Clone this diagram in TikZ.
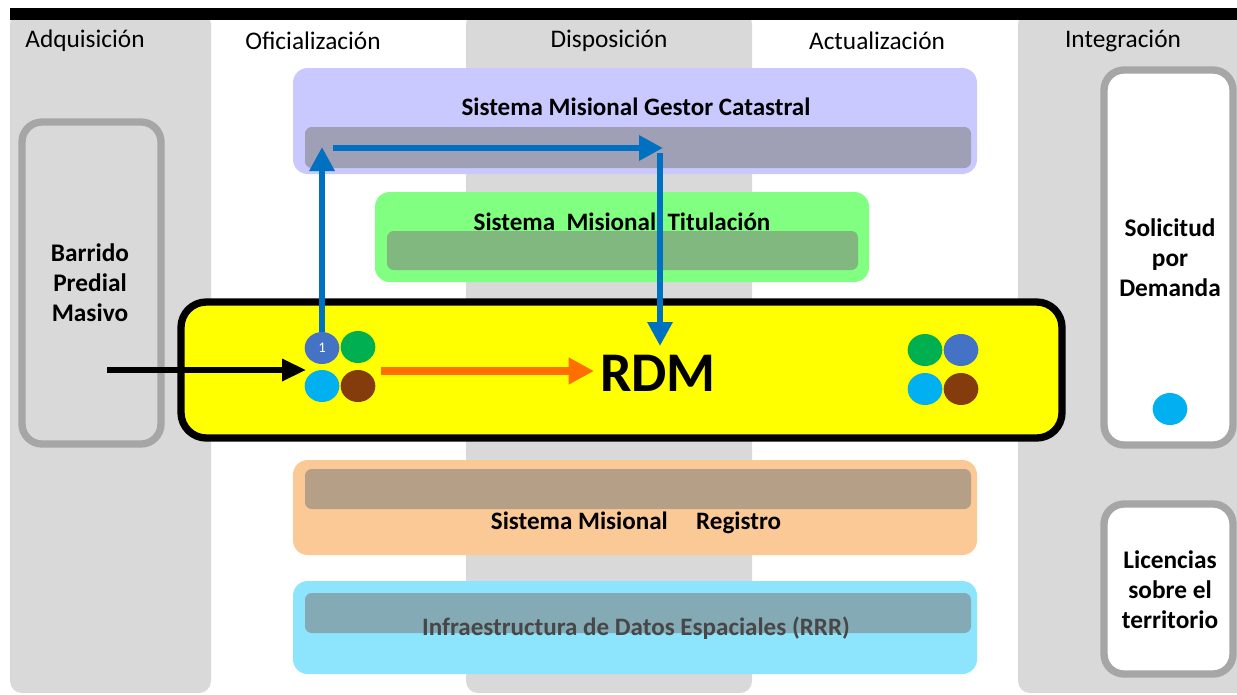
\documentclass[tikz,border=0pt]{standalone}
\usepackage{fontspec}
\setmainfont{Carlito}
\usetikzlibrary{arrows.meta,shapes.geometric}
\definecolor{colgray}{HTML}{D9D9D9}
\definecolor{boxgray}{HTML}{A6A6A6}
\definecolor{lav}{HTML}{C9C9FF}
\definecolor{lavbar}{HTML}{9F9FB6}
\definecolor{grn}{HTML}{80FF80}
\definecolor{grnbar}{HTML}{80B880}
\definecolor{peach}{HTML}{FBC996}
\definecolor{peachbar}{HTML}{B69F87}
\definecolor{sky}{HTML}{8DE5FD}
\definecolor{skybar}{HTML}{84AAB6}
\definecolor{yel}{RGB}{255,255,0}
\definecolor{arrblue}{HTML}{0070C0}
\definecolor{arrorange}{HTML}{FF6F00}
\definecolor{cblue}{HTML}{4472C4}
\definecolor{cgreen}{HTML}{00B050}
\definecolor{ccyan}{HTML}{00B0F0}
\definecolor{cbrown}{HTML}{843C0C}
\tikzset{
  collabel/.style={font=\fontsize{19}{22}\selectfont, inner sep=0pt},
  systitle/.style={font=\bfseries\fontsize{18.8}{22}\selectfont, inner sep=0pt},
  sidetext/.style={font=\bfseries\fontsize{19}{22.5}\selectfont, align=center, inner sep=0pt},
  sidebox/.style={draw=boxgray, line width=5.5pt, rounded corners=15pt},
  dot/.style={ellipse, minimum width=26pt, minimum height=24pt, inner sep=0pt},
  bluearrow/.style={draw=arrblue, line width=5pt, -{Triangle[length=18pt,width=18pt]}},
}
\begin{document}
\begin{tikzpicture}[x=0.75pt,y=-0.75pt]
\useasboundingbox (0,0) rectangle (1237,694);
% columns
\fill[colgray, rounded corners=9pt] (10,12) rectangle (211,693);
\fill[colgray, rounded corners=9pt] (466,12) rectangle (752,693);
\fill[colgray, rounded corners=9pt] (1018,12) rectangle (1260,693);
\fill[black] (10,8) rectangle (1237,20);
\node[collabel] (cAdq) at (85,41) {Adquisición};
\node[collabel] (cOfi) at (313,41) {Oficialización};
\node[collabel] (cDis) at (609,41) {Disposición};
\node[collabel] (cAct) at (877,41) {Actualización};
\node[collabel] (cInt) at (1123,41) {Integración};
% Gestor Catastral
\fill[lav, rounded corners=11pt] (293,68) rectangle (977,174);
\fill[lavbar, rounded corners=5pt] (305,127) rectangle (971,168);
\node[systitle] (gestor) at (636,107) {Sistema Misional Gestor Catastral};
% Titulacion
\fill[grn, rounded corners=11pt] (375,192) rectangle (869,282);
\fill[grnbar, rounded corners=5pt] (387,231) rectangle (858,270);
\node[systitle] (titul) at (622,222) {Sistema\ \ Misional\ \ Titulación};
% Registro
\fill[peach, rounded corners=11pt] (293,460) rectangle (977,555);
\fill[peachbar, rounded corners=5pt] (305,469) rectangle (971,509);
\node[systitle] (regis) at (636,523) {Sistema Misional\ \ \ \ \ Registro};
% Infraestructura
\fill[sky, rounded corners=11pt] (293,581) rectangle (977,674);
\fill[skybar, rounded corners=5pt] (305,593) rectangle (971,633);
\node[systitle, text=black!72] (ide) at (636,628) {Infraestructura de Datos Espaciales (RRR)};
% side boxes
\draw[sidebox, fill=colgray] (22,122) rectangle (161,444);
\node[sidetext] (barrido) at (90,283) {Barrido\\Predial\\Masivo};
\draw[sidebox, fill=white] (1104,70) rectangle (1233,445);
\node[sidetext] (solic) at (1170,258) {Solicitud\\por\\Demanda};
\node[dot, fill=ccyan] (sdot) at (1170,409) {};
\draw[sidebox, fill=white] (1104,504) rectangle (1233,674);
\node[sidetext] (licen) at (1170,590) {Licencias\\sobre el\\territorio};
% RDM
\draw[fill=yel, draw=black, line width=5.5pt, rounded corners=19pt] (181,302) rectangle (1062,438);
\node[font=\bfseries\fontsize{42}{46}\selectfont, inner sep=0pt] (rdm) at (658,373) {RDM};
% circles left
\node[dot, fill=cblue, text=white!85, font=\fontsize{11}{12}\selectfont] (c1) at (322,348) {1};
\node[dot, fill=cgreen] (c2) at (358,347) {};
\node[dot, fill=ccyan] (c3) at (322,386) {};
\node[dot, fill=cbrown] (c4) at (358,386) {};
% circles right
\node[dot, fill=cgreen] (d1) at (925,350) {};
\node[dot, fill=cblue] (d2) at (961,350) {};
\node[dot, fill=ccyan] (d3) at (925,389) {};
\node[dot, fill=cbrown] (d4) at (961,389) {};
% arrows
\coordinate (bstart) at (107,370);
\coordinate (bend) at (306,370);
\draw[line width=4pt, -{Triangle[length=18pt,width=16pt]}] (bstart) -- (bend);
\coordinate (oend) at (594,371);
\draw[draw=arrorange, line width=6pt, -{Triangle[length=19pt,width=19pt]}] (381,371) -- (oend);
\coordinate (upend) at (322,147);
\coordinate (hstart) at (333,148);
\coordinate (hend) at (663,148);
\coordinate (dstart) at (660,153);
\coordinate (dend) at (660,346);
\draw[bluearrow] (c1.north) -- (upend);
\draw[bluearrow] (hstart) -- (hend);
\draw[bluearrow] (dstart) -- (dend);
\end{tikzpicture}
\end{document}
